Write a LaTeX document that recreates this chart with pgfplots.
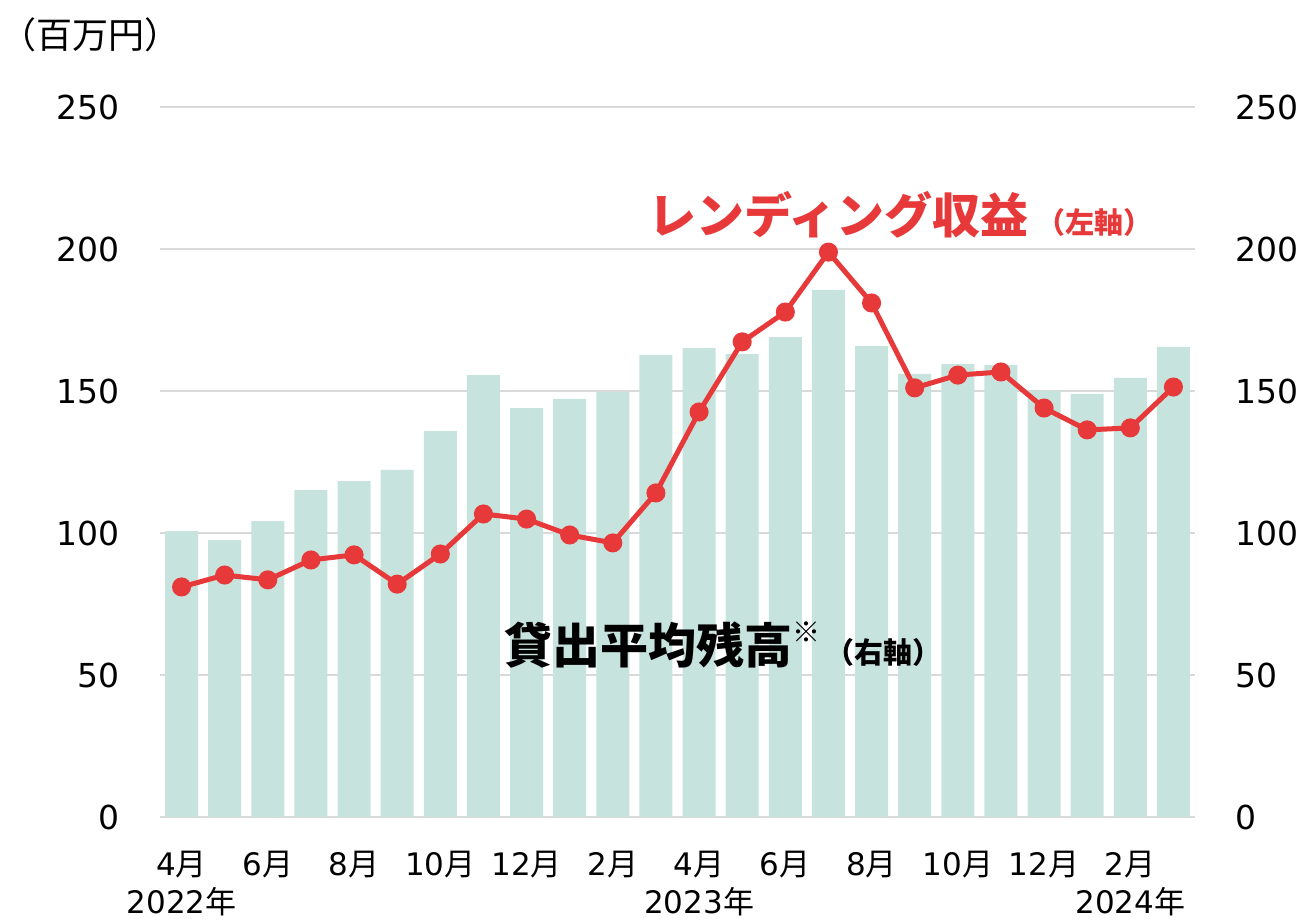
\documentclass[border=0pt]{standalone}
\usepackage{fontspec}
\setmainfont{DejaVu Sans}
\newfontfamily\cjk{Noto Sans CJK JP}
\usepackage{pgfplots}
\usepackage{pgfplotstable}
\pgfplotsset{compat=1.18}
\usetikzlibrary{calc}
\definecolor{barteal}{RGB}{199,227,221}
\definecolor{linered}{RGB}{232,57,58}
\definecolor{gridgray}{RGB}{217,217,217}

% x: month index from Apr 2022; bal: loan balance (right); rev: lending revenue (left)
\pgfplotstableread{
x  bal    rev
0  100.7  81.0
1  97.5   85.2
2  104.2  83.5
3  115.1  90.5
4  118.3  92.3
5  122.2  82.0
6  135.9  92.6
7  155.6  106.7
8  144.0  104.9
9  147.2  99.3
10 149.6  96.5
11 162.7  114.1
12 165.1  142.6
13 163.0  167.3
14 169.0  177.8
15 185.6  198.9
16 165.8  181.0
17 156.0  151.1
18 159.5  155.6
19 159.2  156.7
20 150.0  144.0
21 148.9  136.3
22 154.6  137.0
23 165.5  151.4
}\datatable

\begin{document}
\begin{tikzpicture}
\pgfplotsset{
  base/.style={
    scale only axis, width=517.5pt, height=355pt,
    xmin=-0.5, xmax=23.5, ymin=0, ymax=250,
    ytick={0,50,...,250},
    axis line style={draw=none},
    major tick length=0pt,
    tick label style={font=\fontsize{16.5}{19.5}\selectfont},
    /pgf/number format/assume math mode=true,
    clip=false,
  }
}
\begin{axis}[base, name=ax,
  axis y line*=right, axis x line*=bottom,
  ymajorgrids, grid style={gridgray, line width=1pt},
  xtick={0,2,...,22},
  xticklabels={4{\cjk 月}\\2022{\cjk 年},6{\cjk 月},8{\cjk 月},10{\cjk 月},12{\cjk 月},2{\cjk 月},
    4{\cjk 月}\\2023{\cjk 年},6{\cjk 月},8{\cjk 月},10{\cjk 月},12{\cjk 月},2{\cjk 月}\\2024{\cjk 年}},
  xticklabel style={align=center, anchor=north, yshift=-13.5pt,
    font=\fontsize{15.5}{19}\selectfont},
  yticklabel style={xshift=16.5pt}]
\addplot[ybar, bar width=16.5pt, fill=barteal, draw=none] table[x=x,y=bal]{\datatable};
\node[anchor=west, inner sep=0pt, text=black] at (axis cs:7.47,60.6)
  {\cjk\bfseries\fontsize{24}{28}\selectfont 貸出平均残高\raisebox{0.45em}{\fontsize{14}{16}\selectfont ※}\hspace{2.5pt}\fontsize{14.5}{16}\selectfont（右軸）};
\end{axis}
\begin{axis}[base,
  axis y line*=left, axis x line*=bottom, xtick=\empty,
  yticklabel style={xshift=-16.5pt}]
\addplot[linered, line width=2.5pt, mark=*, mark size=3.5pt,
  mark options={fill=linered, draw=linered}] table[x=x,y=rev]{\datatable};
\node[anchor=west, inner sep=0pt, text=linered] at (axis cs:10.81,212)
  {\cjk\bfseries\fontsize{24}{28}\selectfont レンディング収益\hspace{4pt}\fontsize{14.5}{16}\selectfont（左軸）};
\node[anchor=west, inner sep=0pt] at (axis cs:-4.2,275.4)
  {\cjk\fontsize{18}{21}\selectfont（百万円）};
\end{axis}
\pgfresetboundingbox
\path ($(ax.south west)+(-80pt,-52pt)$) rectangle ($(ax.north east)+(53.5pt,53.5pt)$);
\end{tikzpicture}
\end{document}
